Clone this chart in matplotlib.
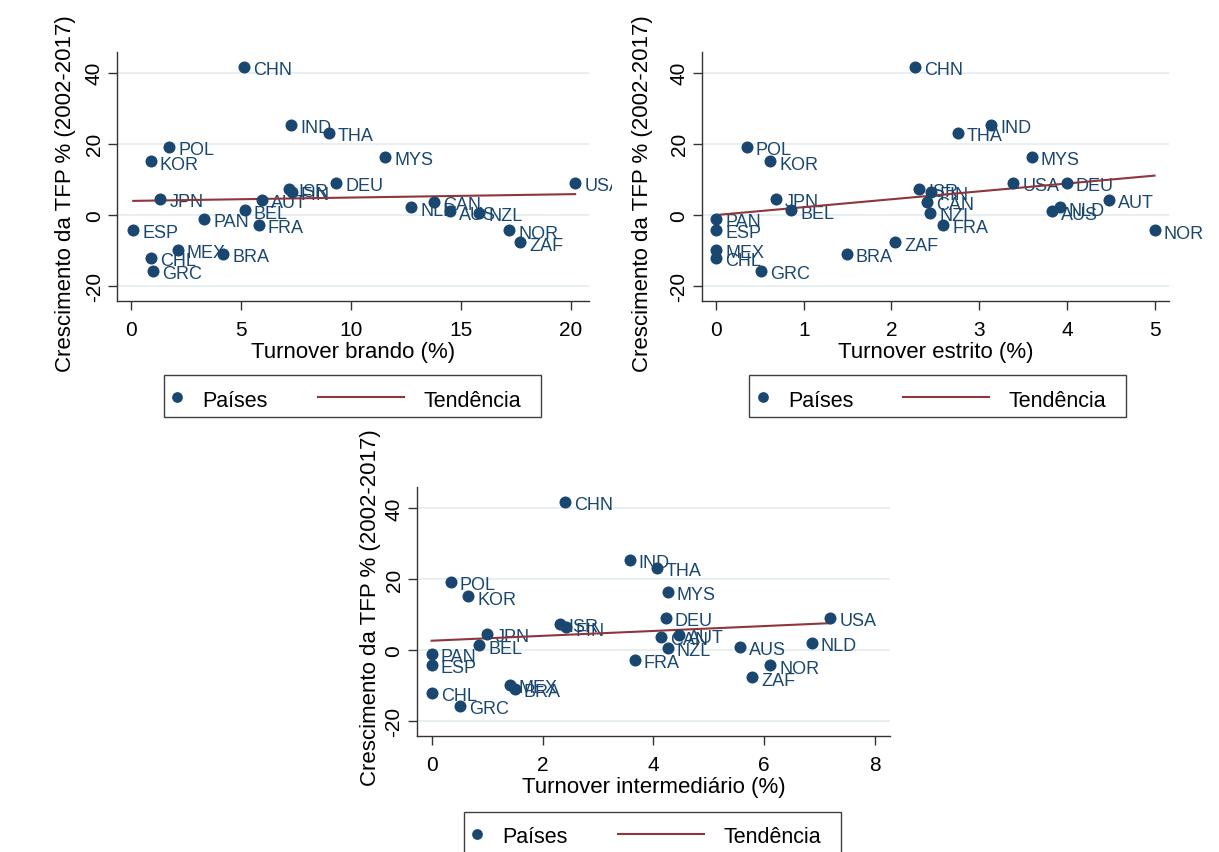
import numpy as np
import matplotlib
matplotlib.use('Agg')
import matplotlib.pyplot as plt
from matplotlib.patches import Rectangle
from matplotlib.lines import Line2D
from matplotlib.transforms import Bbox, TransformedBbox

plt.rcParams['font.family'] = ['Liberation Sans', 'DejaVu Sans']
plt.rcParams['axes.unicode_minus'] = False

NAVY = '#1a476f'
MAROON = '#90353b'
GRID = '#e6eef1'
AXC = '#333333'

paises = ['CHN', 'IND', 'THA', 'POL', 'KOR', 'MYS', 'DEU', 'ISR', 'FIN', 'USA',
          'JPN', 'AUT', 'CAN', 'NLD', 'AUS', 'NZL', 'BEL', 'PAN', 'FRA', 'ESP',
          'NOR', 'ZAF', 'MEX', 'BRA', 'CHL', 'GRC']
tfp = [41.7, 25.3, 23.1, 19.2, 15.1, 16.3, 9.1, 7.3, 6.4, 9.1,
       4.5, 4.3, 3.7, 2.1, 1.0, 0.6, 1.3, -1.0, -2.8, -4.1,
       -4.3, -7.7, -9.8, -10.9, -12.1, -15.8]
brando = [5.15, 7.30, 9.00, 1.76, 0.91, 11.58, 9.35, 7.20, 7.32, 20.20,
          1.35, 5.97, 13.80, 12.74, 14.50, 15.85, 5.18, 3.35, 5.82, 0.12,
          17.20, 17.70, 2.14, 4.20, 0.94, 1.02]
estrito = [2.27, 3.14, 2.76, 0.35, 0.62, 3.60, 4.00, 2.32, 2.45, 3.39,
           0.68, 4.48, 2.41, 3.92, 3.83, 2.44, 0.86, 0.00, 2.59, 0.00,
           5.00, 2.04, 0.00, 1.49, 0.00, 0.51]
intermediario = [2.40, 3.57, 4.06, 0.34, 0.66, 4.26, 4.22, 2.31, 2.43, 7.19,
                 1.00, 4.46, 4.14, 6.86, 5.56, 4.26, 0.86, 0.00, 3.66, 0.00,
                 6.11, 5.78, 1.41, 1.50, 0.00, 0.51]

xlabels = ['Turnover brando (%)', 'Turnover estrito (%)', 'Turnover intermediário (%)']
xticks = [[0, 5, 10, 15, 20], [0, 1, 2, 3, 4, 5], [0, 2, 4, 6, 8]]
yticks = [-20, 0, 20, 40]
ylabel = 'Crescimento da TFP % (2002-2017)'
leg_labels = ['Países', 'Tendência']

W, H = 1219, 853
fig = plt.figure(figsize=(W / 100, H / 100), dpi=100)
fig.patch.set_facecolor('white')


def fx(x):
    return x / W


def fy(y):
    return 1 - y / H


# panel boxes in pixels: left, top, right, bottom
boxes = [(117, 53, 589, 301.7), (701.7, 53, 1169, 301.7), (416.7, 488.3, 890, 736.7)]
xlims = [(-0.62, 20.83), (-0.163, 5.165), (-0.27, 8.27)]
ylab_x = [76.4, 653, 381.4]
ylab_y = [0.433, 0.433, 0.518]
clip_right = [612, W, W]
legend_pos = [(164, 376), (749.3, 376), (464, 812.7)]

for i, xs in enumerate([brando, estrito, intermediario]):
    l, t, r, b = boxes[i]
    ax = fig.add_axes([fx(l), fy(b), (r - l) / W, (b - t) / H])
    ax.set_xlim(*xlims[i])
    ax.set_ylim(-24.1, 45.8)
    ax.set_xticks(xticks[i])
    ax.set_yticks(yticks)
    ax.grid(axis='y', color=GRID, lw=1.3)
    ax.set_axisbelow(True)
    for s in ['top', 'right']:
        ax.spines[s].set_visible(False)
    for s in ['left', 'bottom']:
        ax.spines[s].set_color(AXC)
        ax.spines[s].set_linewidth(1.0)
    ax.tick_params(direction='out', length=6.2, width=1, color=AXC, labelsize=15)
    ax.tick_params(axis='x', pad=7.5)
    ax.tick_params(axis='y', pad=3.3, labelrotation=90)
    for lbl in ax.get_yticklabels():
        lbl.set_va('center')

    ax.scatter(xs, tfp, s=75, color=NAVY, linewidths=0, zorder=3, clip_on=False)

    clip = TransformedBbox(Bbox.from_extents(0, 0, fx(clip_right[i]), 1), fig.transFigure)
    for name, xi, yi in zip(paises, xs, tfp):
        txt = ax.annotate(name, (xi, yi), xytext=(6.5, -2), textcoords='offset points',
                          ha='left', va='center', fontsize=13, color=NAVY, zorder=2,
                          annotation_clip=False)
        txt.set_clip_on(True)
        txt.set_clip_box(clip)

    coef = np.polyfit(xs, tfp, 1)
    xfit = np.array([min(xs), max(xs)])
    ax.plot(xfit, np.polyval(coef, xfit), color=MAROON, lw=1.5, zorder=2.5)

    ax.set_xlabel(xlabels[i], fontsize=16)
    ax.set_ylabel(ylabel, fontsize=16)
    ax.xaxis.set_label_coords(0.5, -0.161)
    ax.yaxis.set_label_coords((ylab_x[i] - l) / (r - l), ylab_y[i])

    # legend box in Stata style
    bx, by = legend_pos[i]
    fig.add_artist(Rectangle((fx(bx), fy(by + 42)), 377 / W, 42 / H, transform=fig.transFigure,
                             fill=False, ec='#404040', lw=1.0))
    fig.add_artist(Line2D([fx(bx + 13.3)], [fy(by + 22.3)], marker='o', ms=6.7, color=NAVY,
                          ls='none', transform=fig.transFigure))
    fig.text(fx(bx + 38.7), fy(by + 30.7), leg_labels[0], fontsize=15.5, va='baseline', ha='left')
    fig.add_artist(Line2D([fx(bx + 154), fx(bx + 240)], [fy(by + 22.3)] * 2, color=MAROON, lw=1.5,
                          transform=fig.transFigure))
    fig.text(fx(bx + 259), fy(by + 30.7), leg_labels[1], fontsize=15.5, va='baseline', ha='left')

fig.savefig('out.png', dpi=100, facecolor='white')
